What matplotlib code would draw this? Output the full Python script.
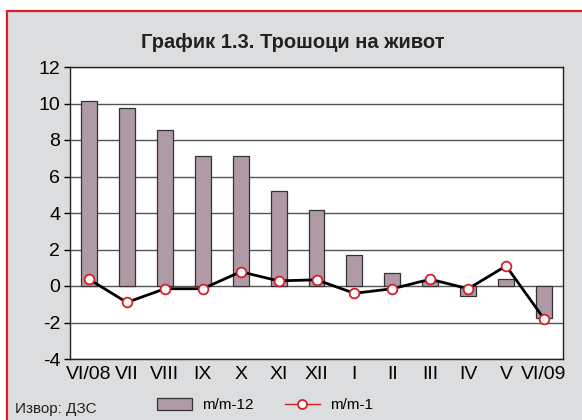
import numpy as np
import matplotlib.pyplot as plt
from matplotlib.patches import Rectangle
from matplotlib.lines import Line2D

months = ['VI/08', 'VII', 'VIII', 'IX', 'X', 'XI', 'XII', 'I', 'II', 'III', 'IV', 'V', 'VI/09']
yoy = [10.15, 9.76, 8.55, 7.15, 7.15, 5.2, 4.15, 1.7, 0.73, 0.25, -0.53, 0.41, -1.75]   # m/m-12
mom = [0.37, -0.9, -0.15, -0.15, 0.78, 0.28, 0.34, -0.4, -0.15, 0.37, -0.15, 1.1, -1.8]   # m/m-1

barcol = '#b09aa6'
red = '#d71f2b'
bg = '#dcdddf'

plt.rcParams['font.family'] = ['Liberation Sans Narrow', 'Liberation Sans', 'DejaVu Sans']
plt.rcParams['axes.unicode_minus'] = False

fig = plt.figure(figsize=(5.82, 4.2), dpi=100)
fig.patch.set_facecolor('white')
fig.patches.append(Rectangle((7/582, -0.05), 1.0, 1 - 11/420 + 0.05, transform=fig.transFigure,
                             facecolor=bg, edgecolor=red, lw=1.6, zorder=-5))

ax = fig.add_axes([70/582, 1 - 359/420, (563 - 70)/582, (359 - 67)/420])
x = np.arange(len(months))
ax.bar(x, yoy, width=0.42, color=barcol, edgecolor='#333333', lw=0.9, zorder=2)
ax.plot(x, mom, color='black', lw=2, marker='o', ms=7, mfc='white', mec=red, mew=1.3, zorder=3)

ax.set_xlim(-0.5, len(months) - 0.5)
ax.set_ylim(-4, 12)
ax.set_yticks(range(-4, 13, 2))
ax.set_xticks(x)
ax.set_xticklabels(months)
ax.yaxis.grid(True, color='#555555', lw=1)
ax.set_axisbelow(True)
ax.tick_params(axis='x', length=0, labelsize=14, pad=5)
ax.tick_params(axis='y', length=4, width=1, labelsize=14, pad=3)
for s in ax.spines.values():
    s.set_color('#222222')
    s.set_linewidth(1)

fig.text(293/582, 1 - 42/420, 'График 1.3. Трошоци на живот', ha='center', va='center',
         fontsize=14.5, fontweight='bold', color='#222222')
fig.text(15/582, 1 - 409/420, 'Извор: ДЗС', ha='left', va='center', fontsize=11, color='#222222')

handles = [Rectangle((0, 0), 1, 1, facecolor=barcol, edgecolor='#333333', lw=0.9),
           Line2D([], [], color=red, lw=1, marker='o', ms=6.5, mfc='white', mec=red, mew=1.3)]
fig.legend(handles, ['m/m-12', 'm/m-1'], loc='center', bbox_to_anchor=(265/582, 1 - 405/420),
           ncol=2, frameon=False, fontsize=11, handlelength=2.3, handleheight=0.9,
           columnspacing=2.0, handletextpad=0.7)

fig.savefig('out.png', dpi=100)
